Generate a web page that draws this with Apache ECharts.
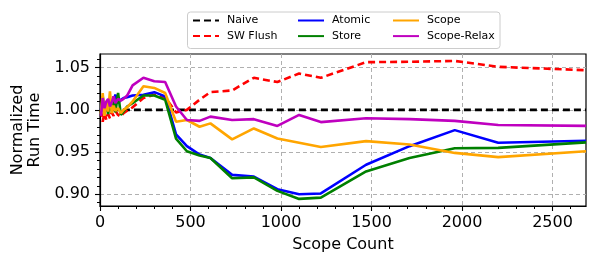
<!DOCTYPE html>
<html>
<head>
<meta charset="utf-8">
<script src="https://cdn.jsdelivr.net/npm/echarts@6/dist/echarts.min.js"></script>
<style>
html,body{margin:0;padding:0;background:#fff;}
#chart{width:598px;height:268px;}
</style>
</head>
<body>
<div id="chart"></div>
<script>
// ---- data ----
const scopeCount = [5,15,25,35,45,55,65,75,85,100,115,130,150,180,240,300,360,420,480,550,610,730,850,980,1100,1220,1470,1710,1960,2200,2685];
const naive = [1.00,1.00,1.00,1.00,1.00,1.00,1.00,1.00,1.00,1.00,1.00,1.00,1.00,1.00,1.00,1.00,1.00,1.00,1.00,1.00,1.00,1.00,1.00,1.00,1.00,1.00,1.00,1.00,1.00,1.00,1.00];
const swFlush = [1.000,0.986,0.997,0.988,0.995,0.990,0.997,0.993,0.999,0.994,0.992,0.996,0.999,1.003,1.014,1.018,1.015,0.997,1.000,1.012,1.021,1.023,1.038,1.033,1.043,1.038,1.0565,1.057,1.058,1.051,1.047];
const atomic = [1.000,1.008,0.996,1.004,1.001,1.006,1.003,1.010,1.018,1.008,1.012,1.014,1.015,1.017,1.018,1.021,1.016,0.971,0.957,0.947,0.943,0.923,0.921,0.906,0.900,0.901,0.935,0.957,0.976,0.961,0.9635];
const store = [0.997,1.016,0.998,1.008,0.995,1.012,0.998,1.016,0.997,1.020,0.994,0.998,1.004,1.008,1.017,1.017,1.012,0.966,0.951,0.946,0.943,0.919,0.920,0.904,0.8945,0.896,0.927,0.943,0.9545,0.955,0.9615];
const scope = [0.995,1.020,0.993,1.010,0.998,1.022,0.996,1.005,0.999,1.002,0.996,1.000,1.003,1.010,1.028,1.026,1.020,0.986,0.988,0.980,0.984,0.965,0.978,0.966,0.961,0.956,0.963,0.959,0.949,0.944,0.951];
const scopeRelax = [0.993,1.014,1.002,1.010,1.013,1.004,1.009,1.016,1.008,1.013,1.011,1.013,1.017,1.029,1.038,1.034,1.033,1.004,0.988,0.987,0.992,0.988,0.989,0.981,0.994,0.9855,0.990,0.989,0.987,0.982,0.981];

const xMajorTicks = [0,500,1000,1500,2000,2500];
const xMinorTicks = [100,200,300,400,600,700,800,900,1100,1200,1300,1400,1600,1700,1800,1900,2100,2200,2300,2400,2600];
const yMajorTicks = [0.90,0.95,1.00,1.05];
const yMinorTicks = [0.89,0.91,0.92,0.93,0.94,0.96,0.97,0.98,0.99,1.01,1.02,1.03,1.04,1.06];

const seriesNames = ['Naive','SW Flush','Atomic','Store','Scope','Scope-Relax'];
const seriesValues = [naive, swFlush, atomic, store, scope, scopeRelax];
const seriesColors = ['#000000','#ff0000','#0000ff','#008000','#ffa500','#bf00bf'];
const seriesDashed = [true,true,false,false,false,false];

// ---- chart ----
const FONT = 'DejaVu Sans';
const X_MIN = 0, X_MAX = 2685, Y_MIN = 0.8861, Y_MAX = 1.0662;
const chart = echarts.init(document.getElementById('chart'), null, {renderer:'canvas'});

const series = seriesNames.map((name, i) => ({
  name: name,
  type: 'line',
  xAxisIndex: 0,
  yAxisIndex: 0,
  symbol: 'none',
  showSymbol: false,
  smooth: false,
  data: scopeCount.map((x, j) => [x, seriesValues[i][j]]),
  lineStyle: {color: seriesColors[i], width: 2.6, type: seriesDashed[i] ? [7,4] : 'solid', cap:'butt'},
  itemStyle: {color: seriesColors[i]},
  z: 2 + i
}));

const legendCommon = {
  orient: 'vertical',
  top: 15,
  itemWidth: 26,
  itemHeight: 12,
  itemGap: 4.6,
  padding: 0,
  selectedMode: false,
  itemStyle: {color: 'rgba(0,0,0,0)', borderWidth: 0, opacity: 0},
  textStyle: {fontFamily: FONT, fontSize: 11, color: '#000', padding: [0,0,0,3]}
};

const option = {
  animation: false,
  backgroundColor: '#fff',
  textStyle: {fontFamily: FONT},
  grid: {left: 100, right: 12, top: 54, bottom: 62, show: true, borderColor: '#000', borderWidth: 1.2, backgroundColor: 'transparent'},
  graphic: [{
    type: 'rect', left: 187, top: 11.5, z: 0,
    shape: {width: 312.5, height: 36.5, r: 3},
    style: {fill: '#fff', stroke: '#cccccc', lineWidth: 1}
  }],
  legend: [
    Object.assign({}, legendCommon, {left: 192, data: ['Naive','SW Flush']}),
    Object.assign({}, legendCommon, {left: 297, data: ['Atomic','Store']}),
    Object.assign({}, legendCommon, {left: 392, data: ['Scope','Scope-Relax']})
  ],
  xAxis: [{
    type: 'value', min: X_MIN, max: X_MAX, position: 'bottom',
    name: 'Scope Count', nameLocation: 'middle', nameGap: 31,
    nameTextStyle: {fontFamily: FONT, fontSize: 16, color: '#000'},
    axisLine: {show: true, onZero: false, lineStyle: {color: '#000', width: 1.2}},
    axisTick: {show: true, length: 5, inside: false, customValues: xMajorTicks, lineStyle: {color: '#000', width: 1.1}},
    axisLabel: {show: true, customValues: xMajorTicks, margin: 9, fontFamily: FONT, fontSize: 16, color: '#000', formatter: v => String(v)},
    splitLine: {show: true, lineStyle: {color: '#b0b0b0', width: 1, type: [4,3]}}
  }, {
    type: 'value', min: X_MIN, max: X_MAX, position: 'bottom',
    axisLine: {show: false},
    axisTick: {show: true, length: 3, inside: false, customValues: xMinorTicks, lineStyle: {color: '#000', width: 1}},
    axisLabel: {show: false},
    splitLine: {show: false}
  }],
  yAxis: [{
    type: 'value', min: Y_MIN, max: Y_MAX, position: 'left',
    name: 'Normalized\nRun Time', nameLocation: 'middle', nameGap: 52, nameRotate: 90,
    nameTextStyle: {fontFamily: FONT, fontSize: 16, color: '#000', lineHeight: 17, align: 'center'},
    axisLine: {show: true, onZero: false, lineStyle: {color: '#000', width: 1.2}},
    axisTick: {show: true, length: 5, inside: false, customValues: yMajorTicks, lineStyle: {color: '#000', width: 1.1}},
    axisLabel: {show: true, customValues: yMajorTicks, margin: 10, fontFamily: FONT, fontSize: 16, color: '#000', formatter: v => Number(v).toFixed(2)},
    splitLine: {show: true, lineStyle: {color: '#b0b0b0', width: 1, type: [4,3]}}
  }, {
    type: 'value', min: Y_MIN, max: Y_MAX, position: 'left',
    axisLine: {show: false},
    axisTick: {show: true, length: 3, inside: false, customValues: yMinorTicks, lineStyle: {color: '#000', width: 1}},
    axisLabel: {show: false},
    splitLine: {show: false}
  }],
  series: series
};
chart.setOption(option);
</script>
</body>
</html>
